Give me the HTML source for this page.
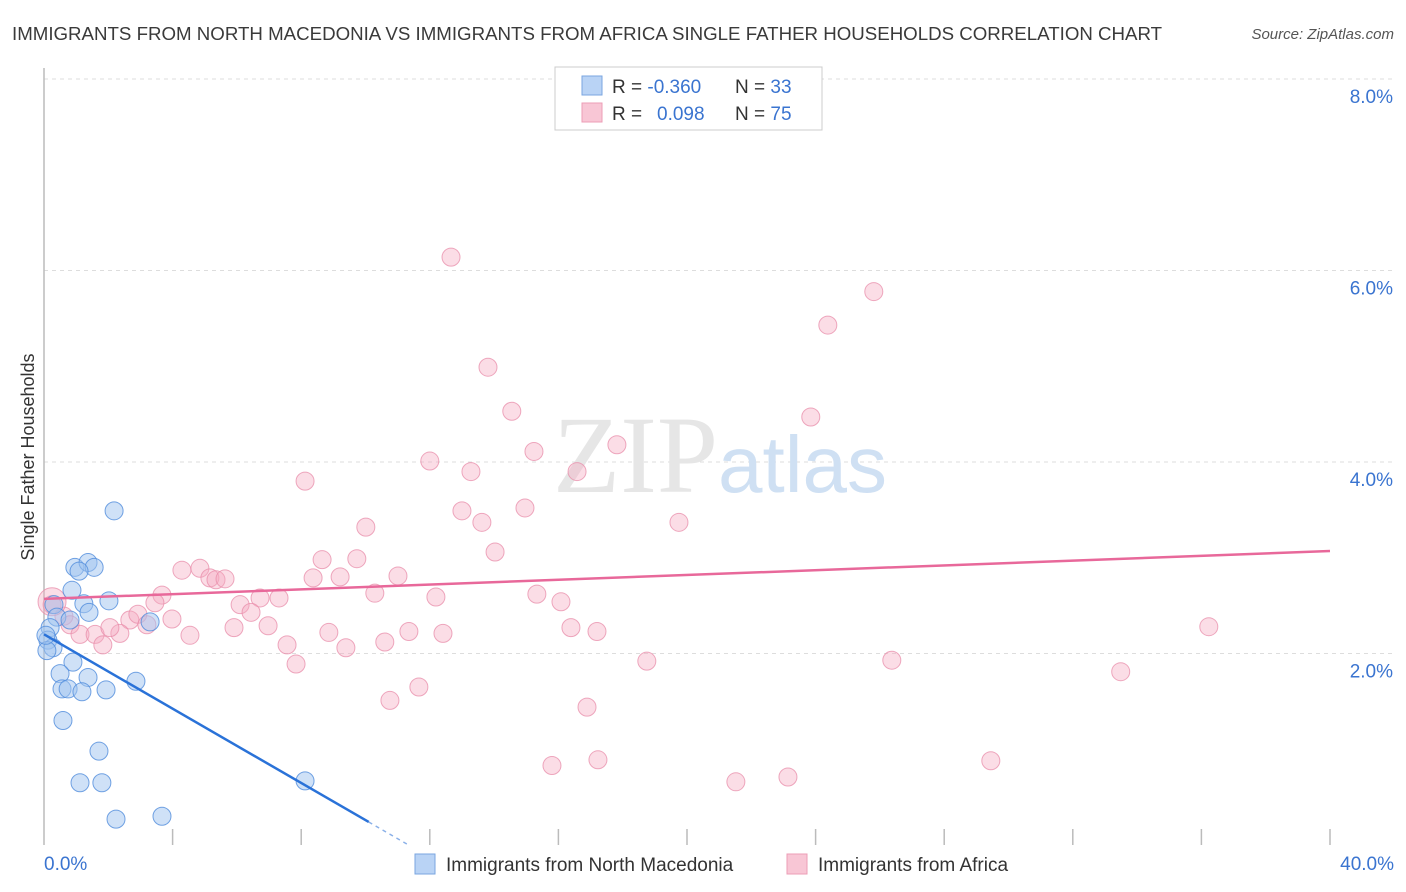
<!DOCTYPE html>
<html><head><meta charset="utf-8">
<style>
body{margin:0;background:#fff;font-family:"Liberation Sans",sans-serif;}
#wrap{position:relative;width:1406px;height:892px;overflow:hidden;}
</style></head><body>
<div id="wrap">
<svg id="svg" width="1406" height="892" xmlns="http://www.w3.org/2000/svg" font-family="Liberation Sans, sans-serif">
<text x="12" y="40" font-size="18.7" fill="#3a3a3a">IMMIGRANTS FROM NORTH MACEDONIA VS IMMIGRANTS FROM AFRICA SINGLE FATHER HOUSEHOLDS CORRELATION CHART</text>
<text x="1394" y="39" font-size="15" fill="#555" font-style="italic" text-anchor="end">Source: ZipAtlas.com</text>
<text transform="translate(34,457) rotate(-90)" font-size="18" fill="#333" text-anchor="middle">Single Father Households</text>
<g id="grid"></g>
<line x1="44" y1="68" x2="44" y2="845" stroke="#bbb" stroke-width="1.5"/>
<text x="553" y="492" font-size="110" fill="#e6e6e6" font-family="Liberation Serif, serif">ZIP</text>
<text x="718" y="492" font-size="80" fill="#cfe0f3">atlas</text>
<g id="pts"></g>
<g id="lines"></g>
<g>
<rect x="555" y="67" width="267" height="63" fill="#fff" stroke="#ccc"/>
<rect x="582" y="76" width="20" height="19" fill="#b9d3f5" stroke="#7aa6e0"/>
<rect x="582" y="103" width="20" height="19" fill="#f8c6d5" stroke="#ec9db6"/>
<text x="612" y="93" font-size="19" fill="#333">R = <tspan fill="#3a74d0">-0.360</tspan></text>
<text x="735" y="93" font-size="19" fill="#333">N = <tspan fill="#3a74d0">33</tspan></text>
<text x="612" y="120" font-size="19" fill="#333">R = <tspan fill="#3a74d0" x="657">0.098</tspan></text>
<text x="735" y="120" font-size="19" fill="#333">N = <tspan fill="#3a74d0">75</tspan></text>
</g>
<g>
<rect x="415" y="854" width="20" height="20" fill="#b9d3f5" stroke="#7aa6e0"/>
<text x="446" y="871" font-size="19" fill="#333">Immigrants from North Macedonia</text>
<rect x="787" y="854" width="20" height="20" fill="#f8c6d5" stroke="#ec9db6"/>
<text x="818" y="871" font-size="19" fill="#333">Immigrants from Africa</text>
</g>
<text x="44" y="870" font-size="19" fill="#3a74d0">0.0%</text>
<text x="1394" y="870" font-size="19" fill="#3a74d0" text-anchor="end">40.0%</text>
</svg>
</div>
<script>
const yTicks=[2,4,6,8];
const yTickLabels=["2.0%","4.0%","6.0%","8.0%"];
const xTicks=[4,8,12,16,20,24,28,32,36,40];
const blueX=[2.18,0.96,1.37,1.56,1.09,0.87,1.24,2.02,1.40,0.31,0.40,0.81,3.30,0.19,0.12,0.28,0.09,0.90,0.50,1.37,0.56,0.75,1.18,1.93,2.86,0.59,1.71,1.12,1.80,8.12,2.24,3.67,0.06];
const blueY=[3.49,2.90,2.95,2.90,2.86,2.66,2.52,2.55,2.43,2.51,2.38,2.35,2.33,2.27,2.14,2.06,2.03,1.91,1.79,1.75,1.63,1.63,1.60,1.62,1.71,1.30,0.98,0.65,0.65,0.67,0.27,0.30,2.19];
const pinkX=[12.66,25.81,24.38,13.81,14.55,23.85,17.82,15.24,12.00,16.58,13.28,8.12,13.00,14.96,13.62,19.75,10.01,14.03,8.65,9.73,4.29,4.85,5.16,5.35,5.63,8.37,9.21,11.01,3.67,10.29,15.33,12.19,16.08,6.10,6.72,7.31,3.45,0.25,0.62,3.98,2.67,6.44,2.92,3.20,0.81,5.91,6.97,8.86,11.35,12.41,16.39,17.20,36.23,1.12,1.59,2.36,2.05,4.54,7.56,10.60,9.39,1.83,18.75,26.37,7.84,33.49,11.66,10.76,16.89,17.23,15.80,29.45,21.52,23.14,0.25];
const pinkY=[6.14,5.78,5.43,4.99,4.53,4.47,4.18,4.11,4.01,3.90,3.90,3.80,3.49,3.52,3.37,3.37,3.32,3.06,2.98,2.99,2.87,2.89,2.79,2.77,2.78,2.79,2.80,2.81,2.61,2.63,2.62,2.59,2.54,2.51,2.58,2.58,2.53,2.51,2.39,2.36,2.35,2.43,2.41,2.30,2.30,2.27,2.29,2.22,2.23,2.21,2.27,2.23,2.28,2.20,2.20,2.21,2.27,2.19,2.09,2.12,2.06,2.09,1.92,1.93,1.89,1.81,1.65,1.51,1.44,0.89,0.83,0.88,0.66,0.71,2.54];
const blueTrend=[2.20,-0.194];
const pinkTrend=[2.57,0.0125];
const NS="http://www.w3.org/2000/svg";
const X0=44,X1=1330,Y0=845,Y8=79;
function sx(v){return X0+(X1-X0)*v/40;}
function sy(v){return Y0-(Y0-Y8)*v/8;}
function mk(t,a,p){const e=document.createElementNS(NS,t);for(const k in a)e.setAttribute(k,a[k]);p.appendChild(e);return e;}
const grid=document.getElementById('grid');
yTicks.forEach((v,i)=>{
 const l=mk('line',{x1:X0,x2:1394,y1:sy(v),y2:sy(v),stroke:'#ddd','stroke-dasharray':'4,4'},grid);
 
 
 const t=mk('text',{x:1393,y:sy(v)+24,'font-size':19,fill:'#3a74d0','text-anchor':'end'},grid);
 t.textContent=yTickLabels[i];
 
 
});
xTicks.forEach(v=>{
 const l=mk('line',{x1:sx(v),x2:sx(v),y1:829,y2:845,stroke:'#bbb','stroke-width':1.5},grid);
 
 
});
const pts=document.getElementById('pts');
pinkX.forEach((x,i)=>{
 const r=i===pinkX.length-1?14:9;
 const c=mk('circle',{cx:sx(x),cy:sy(pinkY[i]),r:r,fill:'rgba(244,170,192,0.4)',stroke:'rgba(232,140,170,0.75)','stroke-width':1},pts);
 
 
});
blueX.forEach((x,i)=>{
 const c=mk('circle',{cx:sx(x),cy:sy(blueY[i]),r:9,fill:'rgba(160,195,240,0.5)',stroke:'rgba(80,140,220,0.8)','stroke-width':1},pts);
 
 
});
const lines=document.getElementById('lines');
const pl=mk('line',{x1:sx(0),y1:sy(pinkTrend[0]),x2:sx(40),y2:sy(pinkTrend[0]+pinkTrend[1]*40),stroke:'#e8689a','stroke-width':2.5},lines);


const xEnd=10.1,xDash=11.3;
const bl=mk('line',{x1:sx(0),y1:sy(blueTrend[0]),x2:sx(xEnd),y2:sy(blueTrend[0]+blueTrend[1]*xEnd),stroke:'#2a72d8','stroke-width':2.5},lines);


const bd=mk('line',{x1:sx(xEnd),y1:sy(blueTrend[0]+blueTrend[1]*xEnd),x2:sx(xDash),y2:sy(blueTrend[0]+blueTrend[1]*xDash),stroke:'#8ab0e8','stroke-width':1.5,'stroke-dasharray':'4,4'},lines);


</script>
</body></html>
